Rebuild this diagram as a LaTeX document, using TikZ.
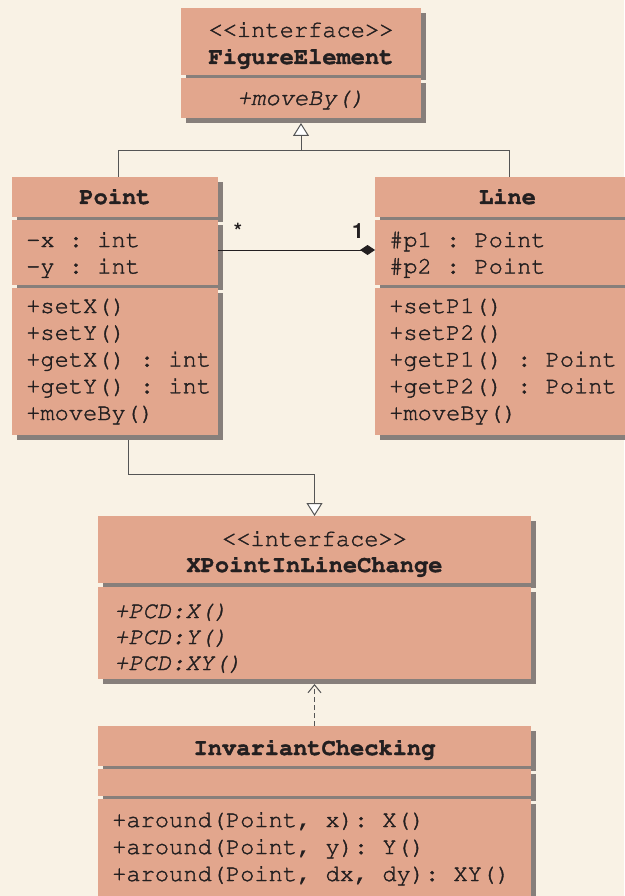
\documentclass[tikz,border=0pt]{standalone}
\usepackage[T1,TU]{fontenc}
\usetikzlibrary{arrows.meta,shadows}
\definecolor{bg}{HTML}{F9F2E5}
\definecolor{boxc}{HTML}{E2A68D}
\definecolor{shd}{HTML}{877F7B}
\definecolor{ink}{HTML}{231F20}
\definecolor{linec}{HTML}{555555}
\newcommand\thick{\special{pdf:literal direct 0.35 w 2 Tr}}
\newcommand\cour{\fontencoding{T1}\fontfamily{pcr}\fontsize{23.7}{26.5}\selectfont\frenchspacing\thick}
\newcommand\helvb{\fontencoding{T1}\fontfamily{phv}\fontseries{b}\fontsize{21}{24}\selectfont}
\begin{document}
\begin{tikzpicture}[x=1pt,y=-1pt,
  comp/.style={rectangle, fill=boxc, anchor=north west, inner sep=0pt, outer sep=0pt,
    drop shadow={shadow xshift=5pt, shadow yshift=-5pt, opacity=1, fill=shd}},
  tline/.style={anchor=base west, inner sep=0pt, text=ink, font=\cour},
  ttitle/.style={anchor=base, inner sep=0pt, text=ink, font=\cour\bfseries},
  tcenter/.style={anchor=base, inner sep=0pt, text=ink, font=\cour},
  mult/.style={anchor=base, inner sep=0pt, text=ink, font=\helvb},
  genl/.style={draw=linec, line width=1pt},
  gentip/.style={-{Triangle[width=16pt,length=13pt,fill=white,line width=1pt]}},
  depl/.style={draw=linec, line width=1pt, dash pattern=on 5pt off 3pt,
    -{Straight Barb[width=13pt,length=8pt,line width=1pt]}},
  assoc/.style={draw=ink, line width=1pt, -{Diamond[width=10pt,length=15pt]}}
]
\useasboundingbox (0,0) rectangle (624,896);
\fill[bg] (0,0) rectangle (624,896);

% FigureElement
\node[comp, minimum width=240pt, minimum height=67pt] (fe1) at (181,8) {};
\node[comp, minimum width=240pt, minimum height=40pt] (fe2) at (181,78) {};
\node[tcenter] (fes) at (301,37) {<{}<interface>{}>};
\node[ttitle] (fen) at (301,64) {FigureElement};
\node[tcenter, font=\cour\itshape] (fem) at (301,105) {+moveBy()};

% Point
\node[comp, minimum width=206pt, minimum height=40pt] (pt1) at (12,177) {};
\node[comp, minimum width=206pt, minimum height=65pt] (pt2) at (12,220) {};
\node[comp, minimum width=206pt, minimum height=147pt] (pt3) at (12,288) {};
\node[ttitle] (ptn) at (115,204) {Point};
\node[tline] (pa1) at (26,247) {\textendash x : int};
\node[tline] (pa2) at (26,273.5) {\textendash y : int};
\node[tline] (pm1) at (26,313) {+setX()};
\node[tline] (pm2) at (26,339.75) {+setY()};
\node[tline] (pm3) at (26,366.5) {+getX() : int};
\node[tline] (pm4) at (26,393.25) {+getY() : int};
\node[tline] (pm5) at (26,420) {+moveBy()};

% Line
\node[comp, minimum width=265pt, minimum height=40pt] (ln1) at (375,177) {};
\node[comp, minimum width=265pt, minimum height=65pt] (ln2) at (375,220) {};
\node[comp, minimum width=265pt, minimum height=147pt] (ln3) at (375,288) {};
\node[ttitle] (lnn) at (507.5,204) {Line};
\node[tline] (la1) at (389,247) {\#p1 : Point};
\node[tline] (la2) at (389,273.5) {\#p2 : Point};
\node[tline] (lm1) at (389,313) {+setP1()};
\node[tline] (lm2) at (389,339.75) {+setP2()};
\node[tline] (lm3) at (389,366.5) {+getP1() : Point};
\node[tline] (lm4) at (389,393.25) {+getP2() : Point};
\node[tline] (lm5) at (389,420) {+moveBy()};

% XPointInLineChange
\node[comp, minimum width=433pt, minimum height=67pt] (xp1) at (98,516) {};
\node[comp, minimum width=433pt, minimum height=92pt] (xp2) at (98,587) {};
\node[tcenter] (xps) at (314.5,546) {<{}<interface>{}>};
\node[ttitle] (xpn) at (314.5,572) {XPointInLineChange};
\node[tline, font=\cour\itshape] (xm1) at (114,618) {+PCD:X()};
\node[tline, font=\cour\itshape] (xm2) at (114,644) {+PCD:Y()};
\node[tline, font=\cour\itshape] (xm3) at (114,670) {+PCD:XY()};

% InvariantChecking
\node[comp, minimum width=433pt, minimum height=40pt] (ic1) at (98,726) {};
\node[comp, minimum width=433pt, minimum height=27pt] (ic2) at (98,769) {};
\node[comp, minimum width=433pt, minimum height=110pt] (ic3) at (98,799) {};
\node[ttitle] (icn) at (314.5,755) {InvariantChecking};
\node[tline] (im1) at (112,827) {+around(Point, x): X()};
\node[tline] (im2) at (112,854) {+around(Point, y): Y()};
\node[tline] (im3) at (112,881) {+around(Point, dx, dy): XY()};

% generalization to FigureElement
\coordinate (j1) at (301,151);
\draw[genl] ([xshift=3pt]pt1.north) |- (j1);
\draw[genl] ([xshift=1.5pt]ln1.north) |- (j1);
\draw[genl, gentip] (j1) -- ([yshift=-5pt]fe2.south);

% generalization Point -> XPointInLineChange
\coordinate (j2) at (128,474);
\draw[genl, gentip] ([xshift=13pt,yshift=-5pt]pt3.south) -- (j2) -| (xp1.north);

% dependency
\draw[depl] (ic1.north) -- ([yshift=-5pt]xp2.south);

% association
\draw[assoc] ([yshift=2.5pt]pt2.east) -- ([yshift=2.5pt]ln2.west);
\node[mult] (mstar) at (238,238) {*};
\node[mult] (mone) at (358,238) {1};
\end{tikzpicture}
\end{document}
